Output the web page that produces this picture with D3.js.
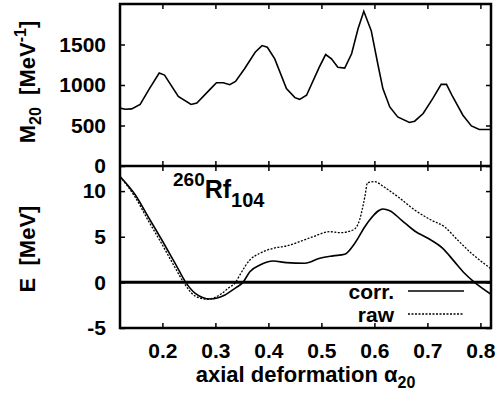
<!DOCTYPE html>
<html>
<head>
	<meta charset="utf-8">
	<title>Rf260 - mass parameter and energy</title>
	<script src="https://d3js.org/d3.v7.min.js"></script>
	<style>
		body { margin: 0; background: white; }
		text { font-family: "Liberation Sans", Arial, sans-serif; font-weight: bold; fill: black; }
		.tick line { stroke: black; stroke-width: 1.5; }
		.domain { display: none; }
	</style>
</head>

<body>
<svg width="498" height="396"></svg>

<script type="text/javascript">
var width = 498, height = 396;

// top panel: mass parameter M20 [1/MeV]
var alphaM = [0.12, 0.13, 0.142, 0.158, 0.175, 0.194, 0.204, 0.23, 0.254, 0.265,
	0.293, 0.302, 0.315, 0.327, 0.338, 0.355, 0.375, 0.388, 0.398, 0.412,
	0.434, 0.45, 0.459, 0.472, 0.496, 0.508, 0.519, 0.531, 0.544, 0.557,
	0.569, 0.58, 0.594, 0.607, 0.616, 0.629, 0.644, 0.666, 0.676, 0.692,
	0.71, 0.726, 0.736, 0.748, 0.767, 0.783, 0.798, 0.82];
var massM = [715, 700, 705, 760, 950, 1147, 1122, 860, 760, 778,
	967, 1028, 1028, 1004, 1045, 1200, 1405, 1487, 1466, 1323,
	955, 844, 823, 873, 1220, 1376, 1323, 1220, 1208, 1385,
	1692, 1910, 1671, 1241, 955, 729, 606, 537, 553, 648,
	832, 1008, 1008, 852, 627, 495, 451, 451];

// bottom panel: energy, corrected and raw
var alphaCorr = [0.12, 0.149, 0.173, 0.199, 0.224, 0.244, 0.262, 0.29, 0.318, 0.337,
	0.352, 0.365, 0.384, 0.409, 0.434, 0.469, 0.497, 0.522, 0.544, 0.563,
	0.582, 0.591, 0.616, 0.629, 0.651, 0.676, 0.701, 0.729, 0.751, 0.77,
	0.789, 0.82];
var energyCorr = [11.6, 9.57, 7.2, 4.64, 2.09, 0, -1.2, -1.82, -1.38, -0.65,
	0, 1.17, 1.9, 2.34, 2.16, 2.09, 2.64, 2.9, 3.08, 4.28,
	6.1, 6.83, 8.04, 7.85, 6.83, 5.63, 4.83, 3.73, 2.27, 1.0,
	0, -1.3];
var alphaRaw = [0.12, 0.149, 0.173, 0.199, 0.224, 0.24, 0.262, 0.285, 0.31, 0.325,
	0.338, 0.346, 0.365, 0.384, 0.409, 0.434, 0.459, 0.484, 0.516, 0.535,
	0.56, 0.572, 0.582, 0.587, 0.6, 0.619, 0.644, 0.676, 0.707, 0.732,
	0.757, 0.783, 0.82];
var energyRaw = [11.6, 9.3, 6.8, 4.2, 1.6, 0, -1.5, -1.85, -1.3, -0.6,
	0, 0.8, 2.45, 3.19, 3.73, 3.99, 4.46, 5.0, 5.55, 5.44,
	5.74, 6.83, 9.39, 10.92, 11.03, 10.42, 9.39, 7.93, 6.83, 6.1,
	4.64, 3.19, 1.5];

var xTicks = [0.2, 0.3, 0.4, 0.5, 0.6, 0.7, 0.8];
var massTicks = [0, 500, 1000, 1500];
var energyTicks = [-5, 0, 5, 10];

var plotLeft = 120, plotRight = 491, plotTop = 4, plotMid = 166, plotBottom = 328;

var x = d3.scaleLinear().domain([0.12, 0.82]).range([plotLeft, plotRight]);
var yTop = d3.scaleLinear().domain([0, 2000]).range([plotMid, plotTop]);
var yBot = d3.scaleLinear().domain([-5, 12.75]).range([plotBottom, plotMid]);

var svg = d3.select('svg');
svg.append('rect').attr('width', width).attr('height', height).attr('fill', 'white');

svg.append('clipPath').attr('id', 'clipTop')
	.append('rect').attr('x', plotLeft).attr('y', plotTop)
	.attr('width', plotRight - plotLeft).attr('height', plotMid - plotTop);
svg.append('clipPath').attr('id', 'clipBot')
	.append('rect').attr('x', plotLeft).attr('y', plotMid)
	.attr('width', plotRight - plotLeft).attr('height', plotBottom - plotMid);

function addAxis(axis, tx, ty, labels) {
	var g = svg.append('g')
		.attr('transform', 'translate(' + tx + ',' + ty + ')')
		.call(axis);
	g.selectAll('text').style('font-size', '21px').attr('fill', 'black');
	if (!labels) g.selectAll('text').remove();
	return g;
}

var fmt = function(d) { return String(d).replace('-', '-'); };

// x ticks on both panels
addAxis(d3.axisTop(x).tickValues(xTicks).tickSize(-5), 0, plotTop, false);
addAxis(d3.axisBottom(x).tickValues(xTicks).tickSize(-5), 0, plotMid, false);
addAxis(d3.axisTop(x).tickValues(xTicks).tickSize(-5), 0, plotMid, false);
addAxis(d3.axisBottom(x).tickValues(xTicks).tickSize(-5).tickPadding(15)
	.tickFormat(d3.format('.1f')), 0, plotBottom, true);

// y ticks
addAxis(d3.axisLeft(yTop).tickValues(massTicks).tickSize(-5).tickPadding(14)
	.tickFormat(fmt), plotLeft, 0, true);
addAxis(d3.axisRight(yTop).tickValues(massTicks).tickSize(-5), plotRight, 0, false);
addAxis(d3.axisLeft(yBot).tickValues(energyTicks).tickSize(-5).tickPadding(14)
	.tickFormat(fmt), plotLeft, 0, true);
addAxis(d3.axisRight(yBot).tickValues(energyTicks).tickSize(-5), plotRight, 0, false);

// zero line
svg.append('line')
	.attr('x1', plotLeft).attr('x2', plotRight)
	.attr('y1', yBot(0)).attr('y2', yBot(0))
	.attr('stroke', 'black').attr('stroke-width', 3);

// curves
var massLine = d3.line()
	.x(function(d) { return x(d[0]); })
	.y(function(d) { return yTop(d[1]); });

svg.append('path')
	.datum(d3.zip(alphaM, massM))
	.attr('clip-path', 'url(#clipTop)')
	.attr('d', massLine)
	.attr('fill', 'none').attr('stroke', 'black').attr('stroke-width', 1.6);

var energyLine = d3.line()
	.curve(d3.curveMonotoneX)
	.x(function(d) { return x(d[0]); })
	.y(function(d) { return yBot(d[1]); });

svg.append('path')
	.datum(d3.zip(alphaRaw, energyRaw))
	.attr('clip-path', 'url(#clipBot)')
	.attr('d', energyLine)
	.attr('fill', 'none').attr('stroke', 'black').attr('stroke-width', 1.3)
	.attr('stroke-dasharray', '2,1.5');

svg.append('path')
	.datum(d3.zip(alphaCorr, energyCorr))
	.attr('clip-path', 'url(#clipBot)')
	.attr('d', energyLine)
	.attr('fill', 'none').attr('stroke', 'black').attr('stroke-width', 1.6);

// frame
svg.append('rect')
	.attr('x', plotLeft).attr('y', plotTop)
	.attr('width', plotRight - plotLeft).attr('height', plotBottom - plotTop)
	.attr('fill', 'none').attr('stroke', 'black').attr('stroke-width', 2.5);
svg.append('line')
	.attr('x1', plotLeft).attr('x2', plotRight).attr('y1', plotMid).attr('y2', plotMid)
	.attr('stroke', 'black').attr('stroke-width', 2.5);

// legend
var legend = [
	{label: 'corr.', y: 291, dash: null},
	{label: 'raw', y: 314, dash: '2,1.5'}
];
legend.forEach(function(d) {
	svg.append('text')
		.attr('x', 394).attr('y', d.y + 8)
		.attr('text-anchor', 'end')
		.style('font-size', '21px')
		.text(d.label);
	svg.append('line')
		.attr('x1', 408).attr('x2', 464)
		.attr('y1', d.y).attr('y2', d.y)
		.attr('stroke', 'black')
		.attr('stroke-width', d.dash ? 1.3 : 1.6)
		.attr('stroke-dasharray', d.dash);
});

// nucleus label
var nuc = svg.append('text').attr('x', 173).attr('y', 186);
nuc.append('tspan').style('font-size', '19px').text('260');
nuc.append('tspan').style('font-size', '25px').attr('dy', 12).text('Rf');
nuc.append('tspan').style('font-size', '20px').attr('dy', 9).text('104');

// axis titles
var xt = svg.append('text')
	.attr('x', (plotLeft + plotRight) / 2).attr('y', 382)
	.attr('text-anchor', 'middle')
	.style('font-size', '22px');
xt.append('tspan').text('axial deformation \u03b1');
xt.append('tspan').attr('dy', 6).style('font-size', '16px').text('20');

var ym = svg.append('text')
	.attr('transform', 'translate(35,82) rotate(-90)')
	.attr('text-anchor', 'middle')
	.attr('xml:space', 'preserve')
	.style('font-size', '22px');
ym.append('tspan').text('M');
ym.append('tspan').attr('dy', 6).style('font-size', '16px').text('20');
ym.append('tspan').attr('dy', -6).text('  [MeV');
ym.append('tspan').attr('dy', -9).style('font-size', '16px').text('-1');
ym.append('tspan').attr('dy', 9).text(']');

svg.append('text')
	.attr('transform', 'translate(35,249) rotate(-90)')
	.attr('text-anchor', 'middle')
	.attr('xml:space', 'preserve')
	.style('font-size', '22px')
	.text('E  [MeV]');
</script>

</body>
</html>
